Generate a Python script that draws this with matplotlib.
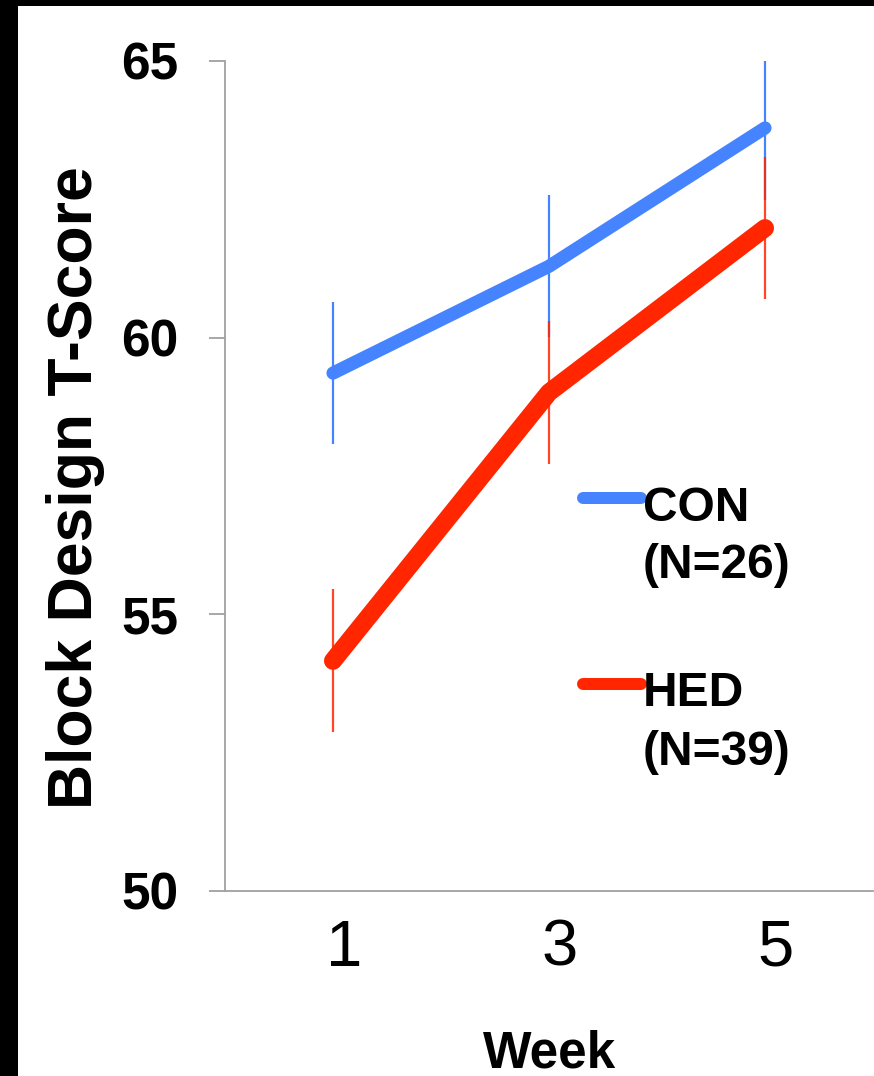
import matplotlib
matplotlib.use("Agg")
import matplotlib.pyplot as plt
import matplotlib.transforms as mtransforms
from matplotlib.patches import Rectangle
from matplotlib.lines import Line2D

weeks = ["1", "3", "5"]
con_mean = [59.36, 61.29, 63.79]
con_err = [1.29, 1.28, 1.30]
hed_mean = [54.16, 59.01, 61.98]
hed_err = [1.29, 1.30, 1.28]
series_labels = ["CON", "HED"]
series_n = ["(N=26)", "(N=39)"]
yticks = [50, 55, 60, 65]

BLUE = "#4683FF"
RED = "#FF2600"
GREY = "#A0A0A0"
FONT = "Liberation Sans"

W, H = 874, 1076
fig = plt.figure(figsize=(W / 100, H / 100), dpi=100, facecolor="black")
fig.patches.append(Rectangle((18 / W, 0), 1 - 18 / W, 1 - 6 / H,
                             transform=fig.transFigure, facecolor="white",
                             edgecolor="none", zorder=-10))

def fx(px):
    return px / W

def fy(py):
    return 1 - py / H

ax_left, ax_right, ax_top, ax_bot = 225, 873, 61, 891
ax = fig.add_axes([fx(ax_left), fy(ax_bot), (ax_right - ax_left) / W, (ax_bot - ax_top) / H])
ax.set_facecolor("none")

x = list(range(len(weeks)))
ax.errorbar(x, con_mean, yerr=con_err, fmt="none", ecolor=BLUE, elinewidth=1.6, capsize=0, zorder=2)
ax.errorbar(x, hed_mean, yerr=hed_err, fmt="none", ecolor=RED, elinewidth=1.6, capsize=0, alpha=0.85, zorder=2)
ax.plot(x, con_mean, color=BLUE, lw=9.5, solid_capstyle="round", solid_joinstyle="round", zorder=3)
ax.plot(x, hed_mean, color=RED, lw=13, solid_capstyle="round", solid_joinstyle="round", zorder=4)

ax.set_xlim(-0.5, 2.5)
ax.set_ylim(50, 65)
ax.set_yticks(yticks)
ax.set_yticklabels([str(v) for v in yticks], fontfamily=FONT, fontweight="bold", fontsize=37)
ax.set_xticks(x)
ax.set_xticklabels(weeks, fontfamily=FONT, fontsize=47)
ax.tick_params(axis="y", length=11.5, width=1.3, color=GREY, pad=22)
ax.tick_params(axis="x", length=0, pad=20)
offset = mtransforms.ScaledTranslation(11 / 100, 0, fig.dpi_scale_trans)
for lbl in ax.get_xticklabels():
    lbl.set_transform(lbl.get_transform() + offset)

for s in ["top", "right"]:
    ax.spines[s].set_visible(False)
for s in ["left", "bottom"]:
    ax.spines[s].set_color(GREY)
    ax.spines[s].set_linewidth(1.3)

# axis titles
fig.text(fx(92), fy(488), "Block Design T-Score", rotation=90, rotation_mode="anchor",
         ha="center", va="baseline", fontfamily=FONT, fontweight="bold", fontsize=45)
fig.text(fx(550), fy(1067), "Week", ha="center", va="baseline",
         fontfamily=FONT, fontweight="bold", fontsize=37)

# legend
legend_rows = [(BLUE, 498, 521, 578, 12), (RED, 684, 706, 765, 12)]
for (col, ly, b1, b2, lw_px), lab, n in zip(legend_rows, series_labels, series_n):
    fig.add_artist(Line2D([fx(583), fx(641)], [fy(ly), fy(ly)], transform=fig.transFigure,
                          color=col, lw=lw_px * 0.72, solid_capstyle="round"))
    fig.text(fx(643), fy(b1), lab, ha="left", va="baseline", fontfamily=FONT,
             fontweight="bold", fontsize=34.5)
    fig.text(fx(643), fy(b2), n, ha="left", va="baseline", fontfamily=FONT,
             fontweight="bold", fontsize=34.5)

fig.savefig("out.png", dpi=100, facecolor=fig.get_facecolor())
